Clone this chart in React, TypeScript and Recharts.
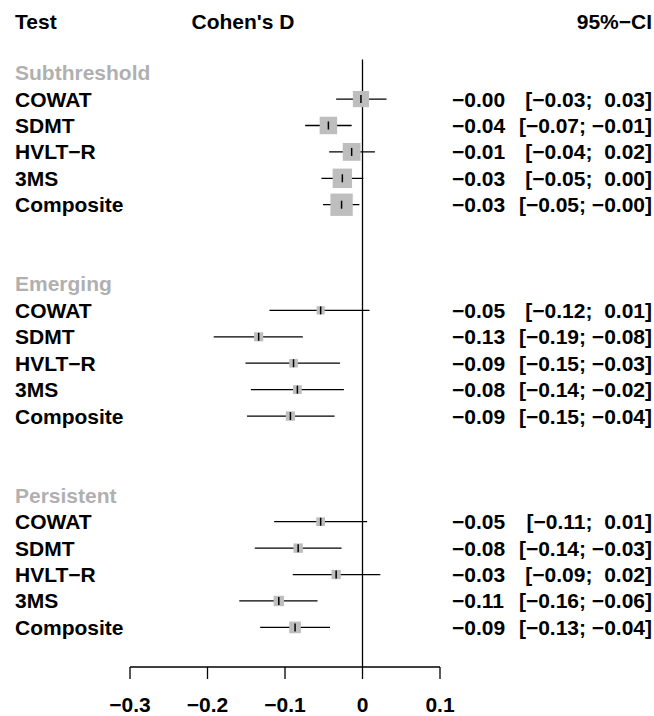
import { ScatterChart, Scatter, XAxis, YAxis, ReferenceLine, ErrorBar } from 'recharts'

const groups = ['Subthreshold', 'Emerging', 'Persistent']
const tests = ['COWAT', 'SDMT', 'HVLT\u2212R', '3MS', 'Composite']

// Cohen's D with 95% CI, per test, one set per group
const subthresholdEst = [-0.002, -0.044, -0.014, -0.026, -0.027]
const subthresholdLo = [-0.034, -0.074, -0.043, -0.053, -0.051]
const subthresholdHi = [0.031, -0.014, 0.016, 0.001, -0.004]

const emergingEst = [-0.054, -0.134, -0.089, -0.084, -0.093]
const emergingLo = [-0.12, -0.192, -0.151, -0.144, -0.149]
const emergingHi = [0.009, -0.077, -0.029, -0.024, -0.036]

const persistentEst = [-0.054, -0.083, -0.034, -0.108, -0.087]
const persistentLo = [-0.114, -0.139, -0.09, -0.159, -0.132]
const persistentHi = [0.006, -0.027, 0.023, -0.058, -0.042]

const xTicks = [-0.3, -0.2, -0.1, 0, 0.1]

const FONT = '"Liberation Sans", Arial, Helvetica, sans-serif'
const GRAY = '#bebebe'
const HEAD_GRAY = '#b0b0b0'

const minus = (s: string) => s.replace(/-/g, '\u2212')
const fmt = (v: number) => minus(v.toFixed(2))
const pad = (v: number) => (fmt(v).startsWith('\u2212') ? fmt(v) : ' ' + fmt(v))

const series = [
  { est: subthresholdEst, lo: subthresholdLo, hi: subthresholdHi },
  { est: emergingEst, lo: emergingLo, hi: emergingHi },
  { est: persistentEst, lo: persistentLo, hi: persistentHi },
]

type Row = { y: number; label: string; header?: boolean; x?: number; lo?: number; hi?: number; err?: number[] }

const rows: Row[] = [{ y: 0, label: 'Test', header: true }]
groups.forEach((g, gi) => {
  const base = 2 + gi * 8
  rows.push({ y: base, label: g, header: true })
  tests.forEach((t, i) => {
    const s = series[gi]
    rows.push({
      y: base + 1 + i,
      label: t,
      x: s.est[i],
      lo: s.lo[i],
      hi: s.hi[i],
      err: [s.est[i] - s.lo[i], s.hi[i] - s.est[i]],
    })
  })
})

const points = rows.filter((r) => r.x !== undefined)
const rowTicks = rows.map((r) => r.y)
const byRow = new Map(rows.map((r) => [r.y, r]))

const textStyle = { fontFamily: FONT, fontWeight: 'bold' as const, fontSize: 21 }

// row labels on the left, effect + CI text on the right
const RowTick = (p: any) => {
  const r = byRow.get(p.payload.value)
  if (!r) return null
  const ty = p.y + 7.5
  if (r.y === 0) {
    return (
      <g>
        <text x={15} y={ty + 2} fill="#000" style={textStyle}>Test</text>
        <text x={243} y={ty + 2} fill="#000" textAnchor="middle" style={textStyle}>Cohen's D</text>
        <text x={652} y={ty + 2} fill="#000" textAnchor="end" style={textStyle}>95%{'\u2212'}CI</text>
      </g>
    )
  }
  return (
    <g>
      <text x={15} y={ty} fill={r.header ? HEAD_GRAY : '#000'} style={textStyle}>
        {r.label}
      </text>
      {r.x !== undefined && (
        <>
          <text x={452} y={ty} fill="#000" style={textStyle}>{fmt(r.x)}</text>
          <text x={652} y={ty} fill="#000" textAnchor="end" xmlSpace="preserve" style={{ ...textStyle, whiteSpace: 'pre' }}>
            {`[${fmt(r.lo!)}; ${pad(r.hi!)}]`}
          </text>
        </>
      )}
    </g>
  )
}

const XTick = (p: any) => {
  const v = p.payload.value as number
  const label = v === 0 ? '0' : minus(String(v))
  return (
    <text x={p.x} y={712} fill="#000" textAnchor="middle" style={textStyle}>
      {label}
    </text>
  )
}

// square side inversely proportional to CI width (precision weight)
const Square = (p: any) => {
  const s = 1.05 / (p.payload.hi - p.payload.lo)
  return <rect x={p.cx - s / 2} y={p.cy - s / 2} width={s} height={s} fill={GRAY} />
}

const Mark = (p: any) => (
  <line x1={p.cx} x2={p.cx} y1={p.cy - 4} y2={p.cy + 4} stroke="#000" strokeWidth={1.5} />
)

export default function App() {
  return (
    <div style={{ position: 'absolute', left: 0, top: 0, width: 654, height: 716, background: '#fff' }}>
      <ScatterChart width={654} height={716} margin={{ top: 0, right: 214, bottom: 0, left: 0 }}>
        <XAxis
          type="number"
          dataKey="x"
          domain={[-0.3, 0.1]}
          ticks={xTicks}
          interval={0}
          height={49}
          tickSize={12}
          stroke="#000"
          strokeWidth={1.3}
          tick={<XTick />}
        />
        <YAxis
          type="number"
          dataKey="y"
          domain={[-0.75, 24.5]}
          reversed
          width={130}
          ticks={rowTicks}
          interval={0}
          axisLine={false}
          tickLine={false}
          tick={<RowTick />}
        />
        <ReferenceLine
          segment={[{ x: 0, y: 1.5 }, { x: 0, y: 24.5 }]}
          stroke="#000"
          strokeWidth={1.3}
        />
        <Scatter data={points} shape={<Square />} isAnimationActive={false} />
        <Scatter data={points} shape={<Mark />} isAnimationActive={false}>
          <ErrorBar dataKey="err" direction="x" width={0} stroke="#000" strokeWidth={1.3} isAnimationActive={false} />
        </Scatter>
      </ScatterChart>
    </div>
  )
}
